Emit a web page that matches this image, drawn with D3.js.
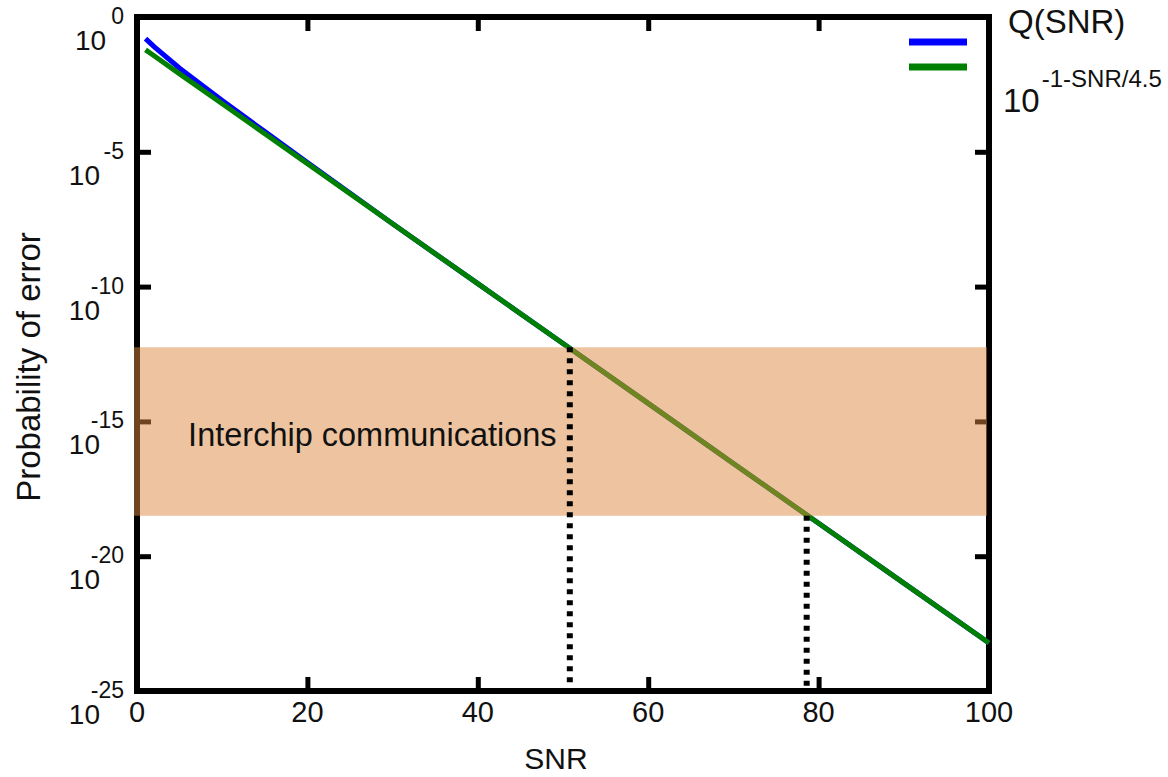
<!DOCTYPE html>
<html lang="en">
<head>
    <meta charset="UTF-8">
    <title>Probability of error vs SNR</title>
    <script src="https://cdnjs.cloudflare.com/ajax/libs/d3/7.8.5/d3.min.js"></script>
    <style>
        body {
            margin: 0;
            background: white;
            font-family: "Liberation Sans", Arial, sans-serif;
        }
        text {
            fill: #111;
        }
    </style>
</head>
<body>
    <svg id="chart" width="1168" height="777"></svg>

    <script>
        // --- Data ---
        const snr = [1, 2, 5, 10, 15, 20, 30, 40, 50, 60, 70, 80, 90, 100];
        // log10 of probability, Q(SNR)
        const qLog = [-0.8, -1.1, -1.9, -3.1, -4.25, -5.4, -7.67, -9.89, -12.11, -14.33, -16.56, -18.78, -21.0, -23.22];
        // log10 of probability, 10^(-1-SNR/4.5)
        const fitLog = [-1.22, -1.44, -2.11, -3.22, -4.33, -5.44, -7.67, -9.89, -12.11, -14.33, -16.56, -18.78, -21.0, -23.22];

        const xTicks = [0, 20, 40, 60, 80, 100];
        const yTickExps = [0, -5, -10, -15, -20, -25];

        // band of interchip communications (log10 bounds) and where the fit crosses it
        const bandExps = [-12.25, -18.5];
        const crossSnr = [50.8, 78.6];

        // --- Setup ---
        const svg = d3.select("#chart");
        const margin = { left: 137, right: 989, top: 17, bottom: 691 };

        const x = d3.scaleLinear().domain([0, 100]).range([margin.left, margin.right]);
        const y = d3.scaleLog().domain([1e0, 1e-25]).range([margin.top, margin.bottom]);

        const tickLen = 14;

        // --- Frame and ticks ---
        svg.append("rect")
            .attr("x", x(0)).attr("y", y(1))
            .attr("width", x(100) - x(0))
            .attr("height", y(1e-25) - y(1))
            .attr("fill", "none")
            .attr("stroke", "#000")
            .attr("stroke-width", 6);

        const tickVals = yTickExps.map(e => Math.pow(10, e));

        function styleAxis(g) {
            g.select(".domain").remove();
            g.selectAll(".tick line").attr("stroke", "#000").attr("stroke-width", 5);
            g.selectAll(".tick text").remove();
        }

        svg.append("g").attr("transform", `translate(${x(0)},0)`)
            .call(d3.axisLeft(y).tickValues(tickVals).tickSize(-tickLen).tickFormat(""))
            .call(styleAxis);
        svg.append("g").attr("transform", `translate(${x(100)},0)`)
            .call(d3.axisRight(y).tickValues(tickVals).tickSize(-tickLen).tickFormat(""))
            .call(styleAxis);
        svg.append("g").attr("transform", `translate(0,${y(1e-25)})`)
            .call(d3.axisBottom(x).tickValues(xTicks).tickSize(-tickLen).tickFormat(""))
            .call(styleAxis);
        svg.append("g").attr("transform", `translate(0,${y(1)})`)
            .call(d3.axisTop(x).tickValues(xTicks).tickSize(-tickLen).tickFormat(""))
            .call(styleAxis);

        // --- Curves ---
        const line = d3.line()
            .x(d => x(d[0]))
            .y(d => y(Math.pow(10, d[1])));

        svg.append("path")
            .datum(d3.zip(snr, qLog))
            .attr("d", line)
            .attr("fill", "none")
            .attr("stroke", "#0000ff")
            .attr("stroke-width", 5);

        svg.append("path")
            .datum(d3.zip(snr, fitLog))
            .attr("d", line)
            .attr("fill", "none")
            .attr("stroke", "#008000")
            .attr("stroke-width", 5);

        // --- Interchip band (semi transparent, drawn over the lines) ---
        const bandTop = y(Math.pow(10, bandExps[0]));
        const bandBot = y(Math.pow(10, bandExps[1]));
        svg.append("rect")
            .attr("x", x(0) - 3)
            .attr("y", bandTop)
            .attr("width", x(100) - 2 - (x(0) - 3))
            .attr("height", bandBot - bandTop)
            .attr("fill", "#dc8a40")
            .attr("opacity", 0.5);

        // dotted drop lines
        svg.selectAll(".drop")
            .data(d3.zip(crossSnr, bandExps))
            .join("line")
            .attr("class", "drop")
            .attr("x1", d => x(d[0]))
            .attr("x2", d => x(d[0]))
            .attr("y1", d => y(Math.pow(10, d[1])))
            .attr("y2", y(1e-25))
            .attr("stroke", "#000")
            .attr("stroke-width", 6)
            .attr("stroke-dasharray", "5,6");

        svg.append("text")
            .attr("x", x(6))
            .attr("y", y(Math.pow(10, -15.9)))
            .attr("font-size", 32.5)
            .text("Interchip communications");

        // --- Tick labels: exponent right aligned, base tucked under it ---
        const expRight = 124;
        const yLab = svg.selectAll(".ylab")
            .data(yTickExps)
            .join("g")
            .attr("class", "ylab")
            .attr("transform", d => `translate(0,${y(Math.pow(10, d))})`);

        yLab.append("text")
            .attr("class", "exp")
            .attr("text-anchor", "end")
            .attr("x", expRight)
            .attr("y", 7)
            .attr("font-size", 23)
            .text(d => d);

        yLab.append("text")
            .attr("text-anchor", "end")
            .attr("y", 33)
            .attr("font-size", 28)
            .attr("x", function() {
                const w = this.parentNode.querySelector(".exp").getComputedTextLength();
                return Math.max(100, expRight - w - 5);
            })
            .text("10");

        svg.selectAll(".xlab")
            .data(xTicks)
            .join("text")
            .attr("class", "xlab")
            .attr("text-anchor", "middle")
            .attr("x", d => x(d))
            .attr("y", y(1e-25) + 31)
            .attr("font-size", 29)
            .text(d => d);

        // --- Axis titles ---
        svg.append("text")
            .attr("text-anchor", "middle")
            .attr("x", 556)
            .attr("y", 769)
            .attr("font-size", 30)
            .text("SNR");

        svg.append("text")
            .attr("text-anchor", "middle")
            .attr("transform", "translate(40,367) rotate(-90)")
            .attr("font-size", 33)
            .text("Probability of error");

        // --- Legend ---
        const legend = svg.append("g");
        const legendColors = ["#0000ff", "#008000"];
        legend.selectAll("line")
            .data(legendColors)
            .join("line")
            .attr("x1", 909).attr("x2", 967)
            .attr("y1", (d, i) => 42 + i * 25)
            .attr("y2", (d, i) => 42 + i * 25)
            .attr("stroke", d => d)
            .attr("stroke-width", 7);

        legend.append("text")
            .attr("x", 1008).attr("y", 33)
            .attr("font-size", 33)
            .text("Q(SNR)");

        const fitLabel = legend.append("text")
            .attr("x", 1003).attr("y", 112);
        fitLabel.append("tspan").attr("font-size", 33).text("10");
        fitLabel.append("tspan").attr("font-size", 24).attr("dx", 2).attr("dy", -25).text("-1-SNR/4.5");
    </script>
</body>
</html>
